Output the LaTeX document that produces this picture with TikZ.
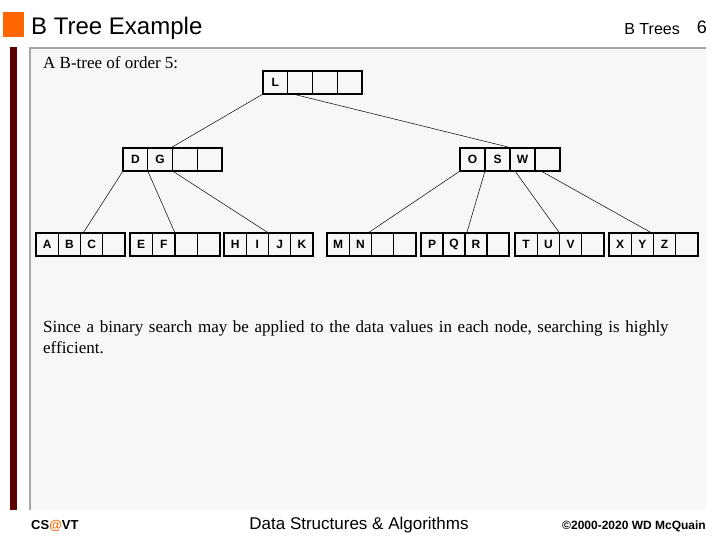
\documentclass[tikz,border=0pt]{standalone}
\usepackage{fontspec}
\setmainfont{Liberation Serif}
\setsansfont{Liberation Sans}
\usetikzlibrary{calc}
\definecolor{panel}{HTML}{F7F7F7}
\definecolor{orng}{HTML}{FF6600}
\definecolor{darkred}{HTML}{5C0000}
\tikzset{bnode/.style={draw,line width=2.2pt,minimum height=23pt,inner sep=0pt,outer sep=0pt},
 edge/.style={line width=0.5pt},
 lbl/.style={font=\sffamily\bfseries\fontsize{12}{12}\selectfont,inner sep=0pt}}
% \bn{name}{x}{y}{width}{a}{b}{c}{d}
\newcommand\bn[8]{%
 \node[bnode,minimum width=#4pt,anchor=north west] (#1) at (#2,#3) {};
 \foreach \k in {1,2,3}{\draw[line width=1.2pt] ($(#1.north west)!\k/4!(#1.north east)$) -- ($(#1.south west)!\k/4!(#1.south east)$);}
 \node[lbl] at ($(#1.west)!0.125!(#1.east)$) {#5};
 \node[lbl] at ($(#1.west)!0.375!(#1.east)$) {#6};
 \node[lbl] at ($(#1.west)!0.625!(#1.east)$) {#7};
 \node[lbl] at ($(#1.west)!0.875!(#1.east)$) {#8};}
\newcommand\pt[2]{($(#1.south west)!#2!(#1.south east)$)}
\newcommand\tp[2]{($(#1.north west)!#2!(#1.north east)$)}
\begin{document}
\begin{tikzpicture}[x=1pt,y=-1pt]
\useasboundingbox (0,0) rectangle (720,540);
\fill[white] (0,0) rectangle (720,540);
\fill[panel] (30,48) rectangle (706,510);
\draw[gray!70,line width=1.5pt] (30,510) -- (30,48) -- (706,48);
\fill[darkred] (10,47) rectangle (17,510);
\fill[orng] (3,12) rectangle (24,37);
\node[anchor=west,font=\sffamily\fontsize{24}{24}\selectfont,inner sep=0pt] (title) at (31,28) {B Tree Example};
\node[anchor=east,font=\sffamily\fontsize{16}{16}\selectfont,inner sep=0pt] (sec) at (680,29) {B Trees};
\node[anchor=east,font=\sffamily\fontsize{18}{18}\selectfont,inner sep=0pt] (pg) at (707,27) {6};
\node[anchor=west,font=\fontsize{17}{17}\selectfont,inner sep=0pt] (cap) at (43,63) {A B-tree of order 5:};
\bn{root}{263}{71}{99}{L}{}{}{}
\bn{dg}{123}{148}{99}{D}{G}{}{}
\bn{osw}{460}{148}{100}{O}{S}{W}{}
\bn{l1}{36}{233}{89}{A}{B}{C}{}
\bn{l2}{130}{233}{90}{E}{F}{}{}
\bn{l3}{224}{233}{89}{H}{I}{J}{K}
\bn{l4}{327}{233}{89}{M}{N}{}{}
\bn{l5}{421}{233}{88}{P}{Q}{R}{}
\bn{l6}{515}{233}{89}{T}{U}{V}{}
\bn{l7}{609}{233}{89}{X}{Y}{Z}{}
\draw[edge] (root.south west) -- \tp{dg}{0.48};
\draw[edge] \pt{root}{0.3} -- \tp{osw}{0.52};
\draw[edge] (dg.south west) -- \tp{l1}{0.53};
\draw[edge] \pt{dg}{0.25} -- \tp{l2}{0.5};
\draw[edge] \pt{dg}{0.5} -- \tp{l3}{0.5};
\draw[edge] (osw.south west) -- \tp{l4}{0.46};
\draw[edge] \pt{osw}{0.25} -- \tp{l5}{0.52};
\draw[edge] \pt{osw}{0.55} -- \tp{l6}{0.5};
\draw[edge] \pt{osw}{0.81} -- \tp{l7}{0.48};
\node[anchor=north west,align=left,text width=650pt,font=\fontsize{17}{21}\selectfont,inner sep=0pt] (body) at (43,321) {\raggedright Since a binary search may be applied to the data values in each node, searching is highly efficient.};
\node[anchor=west,font=\sffamily\bfseries\fontsize{13}{13}\selectfont,inner sep=0pt] (cs) at (31,526) {CS\textcolor{orng}{@}VT};
\node[font=\sffamily\fontsize{17}{17}\selectfont,inner sep=0pt] (ds) at (359,525) {Data Structures \& Algorithms};
\node[anchor=east,font=\sffamily\bfseries\fontsize{12}{12}\selectfont,inner sep=0pt] (cr) at (706,526) {©2000-2020 WD McQuain};
\end{tikzpicture}
\end{document}
